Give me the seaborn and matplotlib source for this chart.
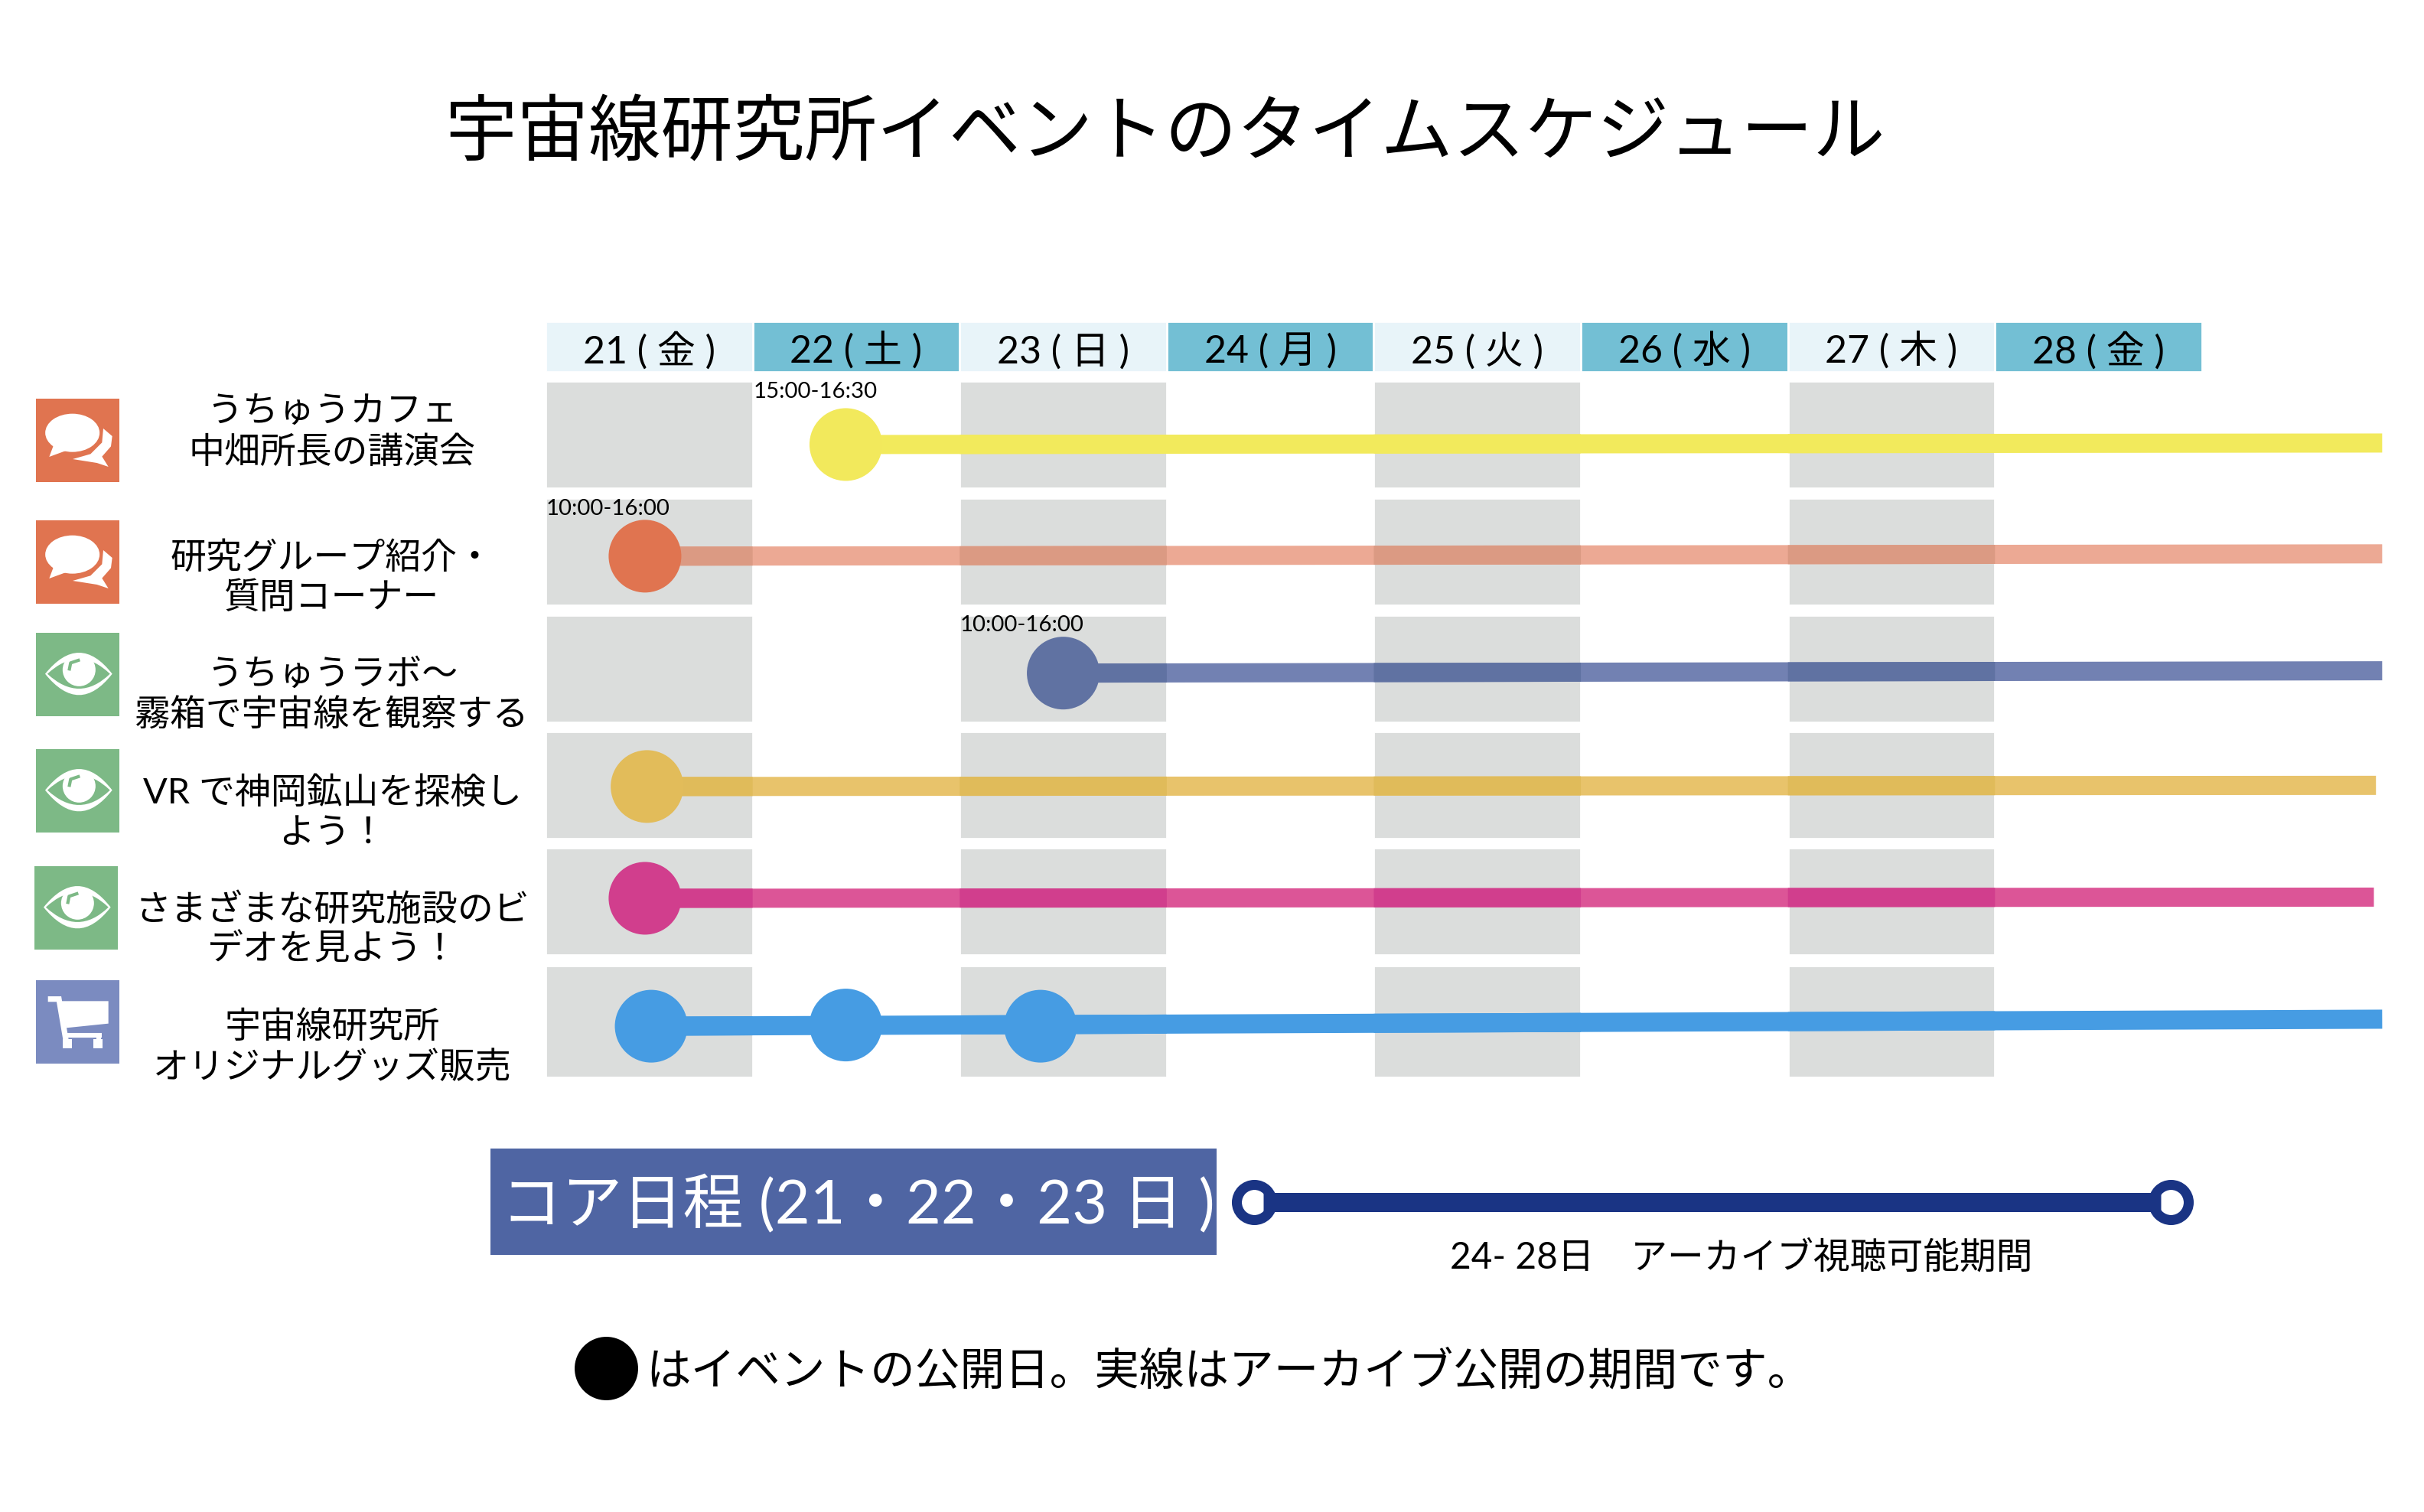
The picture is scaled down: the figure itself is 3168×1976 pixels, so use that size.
import numpy as np
import pandas as pd
import matplotlib.pyplot as plt
import seaborn as sns
from matplotlib.patches import Rectangle, Ellipse, Polygon, PathPatch
from matplotlib.path import Path

sns.set_theme(style="white")
plt.rcParams['font.family'] = ['Lato', 'Noto Sans CJK JP', 'DejaVu Sans']

title = "宇宙線研究所イベントのタイムスケジュール"
days = [21, 22, 23, 24, 25, 26, 27, 28]
day_labels = ["21 ( 金 )", "22 ( 土 )", "23 ( 日 )", "24 ( 月 )", "25 ( 火 )", "26 ( 水 )", "27 ( 木 )", "28 ( 金 )"]
gray_days = [21, 23, 25, 27]

row_labels = [
    ["うちゅうカフェ", "中畑所長の講演会"],
    ["研究グループ紹介・", "質問コーナー"],
    ["うちゅうラボ～", "霧箱で宇宙線を観察する"],
    ["VR で神岡鉱山を探検し", "よう！"],
    ["さまざまな研究施設のビ", "デオを見よう！"],
    ["宇宙線研究所", "オリジナルグッズ販売"],
]
row_icons = ["talk", "talk", "eye", "eye", "eye", "cart"]

# event days per row, x is in days (21.5 = middle of the 21st)
event_row = [0, 1, 2, 3, 4, 5, 5, 5]
event_day = [22.45, 21.48, 23.50, 21.49, 21.48, 21.51, 22.45, 23.39]
event_y = [0.085, 1.04, 2.04, 3.01, 3.966, 5.06, 5.05, 5.06]

# archive lines, one per row
run_end_day = [29.87, 29.87, 29.87, 29.84, 29.83, 29.87]
run_start_y = [0.085, 1.04, 2.04, 3.01, 3.966, 5.06]
run_end_y = [0.072, 1.02, 2.02, 3.00, 3.956, 5.00]

time_labels = ["15:00-16:30", "10:00-16:00", "10:00-16:00"]
time_days = [22, 21, 23]
time_rows = [0, 1, 2]

core_label = "コア日程 (21・22・23 日 )"
archive_days = [24.42, 28.85]
archive_label = "24- 28日　アーカイブ視聴可能期間"
note_label = "はイベントの公開日。実線はアーカイブ公開の期間です。"

# colors
dot_colors = ["#F2E95C", "#E07450", "#6072A2", "#E2BC5A", "#D13E8D", "#469CE3"]
line_colors = ["#F2EA5C", "#ECA994", "#7281B2", "#E8C36B", "#DC5597", "#469CE3"]
line_gray_colors = ["#F2EA5C", "#DB9A83", "#6072A2", "#E0BB5A", "#D13E8D", "#469CE3"]
icon_colors = {"talk": "#E07450", "eye": "#7DB986", "cart": "#7B8BC0"}
CELL_GRAY = "#DBDDDC"
HEAD_LIGHT = "#E8F4F9"
HEAD_DARK = "#73BFD4"
NAVY = "#1A3484"
CORE_BOX = "#4F65A3"

fig = plt.figure(figsize=(15.84, 9.88), dpi=200)
ax = fig.add_axes([0, 0, 1, 1])
ax.set_axis_off()

# gray day cells, last row is a bit taller
for d in gray_days:
    ax.bar([d] * 5, [0.916] * 5, bottom=[-0.458, 0.542, 1.542, 2.542, 3.535], width=1, align='edge', color=CELL_GRAY, zorder=1)
    ax.bar(d, 0.96, bottom=4.54, width=1, align='edge', color=CELL_GRAY, zorder=1)

# header strip
head_colors = [HEAD_LIGHT if i % 2 == 0 else HEAD_DARK for i in range(len(days))]
ax.bar(days, [0.432] * len(days), bottom=-0.969, width=1, align='edge', color=head_colors, zorder=1)
for d, lab in zip(days, day_labels):
    ax.text(d + 0.5, -0.61, lab, ha='center', va='baseline', fontsize=18, color='black')

# archive lines, darker where they cross a gray cell
first_day = [event_day[event_row.index(r)] for r in range(6)]
for r in range(6):
    x0, x1 = first_day[r], run_end_day[r]
    xs = [x0, x1]
    ys = [run_start_y[r], run_end_y[r]]
    sns.lineplot(x=xs, y=ys, ax=ax, color=line_colors[r], linewidth=9, solid_capstyle='butt',
                 estimator=None, sort=False, legend=False, zorder=2)
    for d in gray_days:
        a, b = max(x0, d), min(x1, d + 1)
        if a >= b:
            continue
        sns.lineplot(x=[a, b], y=np.interp([a, b], xs, ys), ax=ax, color=line_gray_colors[r], linewidth=9,
                     solid_capstyle='butt', estimator=None, sort=False, legend=False, zorder=3)

events = pd.DataFrame({"row": event_row, "day": event_day, "y": event_y})
sns.scatterplot(data=events, x="day", y="y", hue="row", palette=dict(enumerate(dot_colors)), s=1170,
                linewidth=0, legend=False, ax=ax, zorder=5)

for lab, d, r in zip(time_labels, time_days, time_rows):
    ax.text(d + 0.003, r - 0.315, lab, ha='left', va='baseline', fontsize=10.6, color='black', zorder=6)

# core days legend
sns.scatterplot(x=archive_days, y=[6.564, 6.564], s=274, facecolor='white', edgecolor=NAVY, linewidth=4.7,
                legend=False, ax=ax, zorder=5)
sns.lineplot(x=[24.465, 28.80], y=[6.564, 6.564], ax=ax, color=NAVY, linewidth=9, solid_capstyle='butt',
             estimator=None, sort=False, legend=False, zorder=6)
sns.scatterplot(x=[21.29], y=[7.984], s=892, color='black', linewidth=0, legend=False, ax=ax, zorder=5)

ax.set_xlim(18.365, 30.072)
ax.set_ylim(9.215, -3.717)
ax.set_xlabel("")
ax.set_ylabel("")

# everything else is laid out in pixels on a second axes
deco = fig.add_axes([0, 0, 1, 1])
deco.set_axis_off()
deco.patch.set_alpha(0)
deco.set_xlim(0, 3168)
deco.set_ylim(1976, 0)


def draw_icon(kind, x, y):
    # shapes are in units of the zoomed icon, 327 across
    col = icon_colors[kind]
    deco.add_patch(Rectangle((x, y), 109, 109, color=col, lw=0))
    pt = lambda px, py: (x + px / 3, y + py / 3)
    if kind == "talk":
        deco.add_patch(Ellipse(pt(143, 134), 71, 50, color='white', lw=0))
        deco.add_patch(Polygon([pt(70, 180), pt(52, 228), pt(115, 205)], color='white', lw=0))
        deco.add_patch(Polygon([pt(264, 117), pt(299, 147), pt(294, 187), pt(259, 227), pt(284, 267),
                                pt(239, 252), pt(144, 237), pt(214, 217), pt(259, 172)], color='white', lw=0))
    elif kind == "eye":
        for off, c in [(83, 'white'), (58, col)]:
            half = off * 2
            verts = [pt(36 + (83 - off) * 0.35, 161), pt(170, 161 - half), pt(299 - (83 - off) * 0.35, 161),
                     pt(170, 161 + half), pt(36 + (83 - off) * 0.35, 161)]
            codes = [Path.MOVETO, Path.CURVE3, Path.CURVE3, Path.CURVE3, Path.CURVE3]
            deco.add_patch(PathPatch(Path(verts, codes), color=c, lw=0))
        deco.add_patch(Ellipse(pt(169, 145), 43, 43, color='white', lw=0))
        deco.plot(*zip(pt(130, 148), pt(136, 118), pt(172, 106)), color=col, lw=1.5, solid_capstyle='butt')
    else:
        deco.plot(*zip(pt(47, 74), pt(90, 74), pt(122, 262)), color='white', lw=2.6, solid_joinstyle='miter', solid_capstyle='butt')
        deco.add_patch(Polygon([pt(94, 82), pt(284, 82), pt(284, 170), pt(119, 187)], color='white', lw=0))
        deco.plot(*zip(pt(112, 217), pt(259, 217)), color='white', lw=2.2, solid_capstyle='butt')
        deco.add_patch(Rectangle(pt(104, 232), 12, 35 / 3, color='white', lw=0))
        deco.add_patch(Rectangle(pt(224, 232), 12, 35 / 3, color='white', lw=0))
        deco.plot(*zip(pt(247, 217), pt(247, 232)), color='white', lw=2.2, solid_capstyle='butt')


icon_pos = [(47, 521), (47, 680), (47, 827), (47, 979), (45, 1132), (47, 1281)]
for kind, (ix, iy) in zip(row_icons, icon_pos):
    draw_icon(kind, ix, iy)

# baselines of the two label lines per row
label_base = [(552, 605), (743, 795), (895, 948), (1050, 1102), (1203, 1255), (1356, 1409)]
for lines, bases in zip(row_labels, label_base):
    for txt, b in zip(lines, bases):
        deco.text(434, b, txt, ha='center', va='baseline', fontsize=16.9, color='black')

deco.text(1522, 174, title, ha='center', va='center', fontsize=33.9, color='black')
deco.add_patch(Rectangle((641, 1501), 949, 139, color=CORE_BOX, lw=0))
deco.text(655, 1599, core_label, ha='left', va='baseline', fontsize=28.5, color='white')
deco.text(1895, 1658, archive_label, ha='left', va='baseline', fontsize=17.2, color='black')
deco.text(844, 1810, note_label, ha='left', va='baseline', fontsize=21.1, color='black')

fig.savefig("out.png", dpi=200)
